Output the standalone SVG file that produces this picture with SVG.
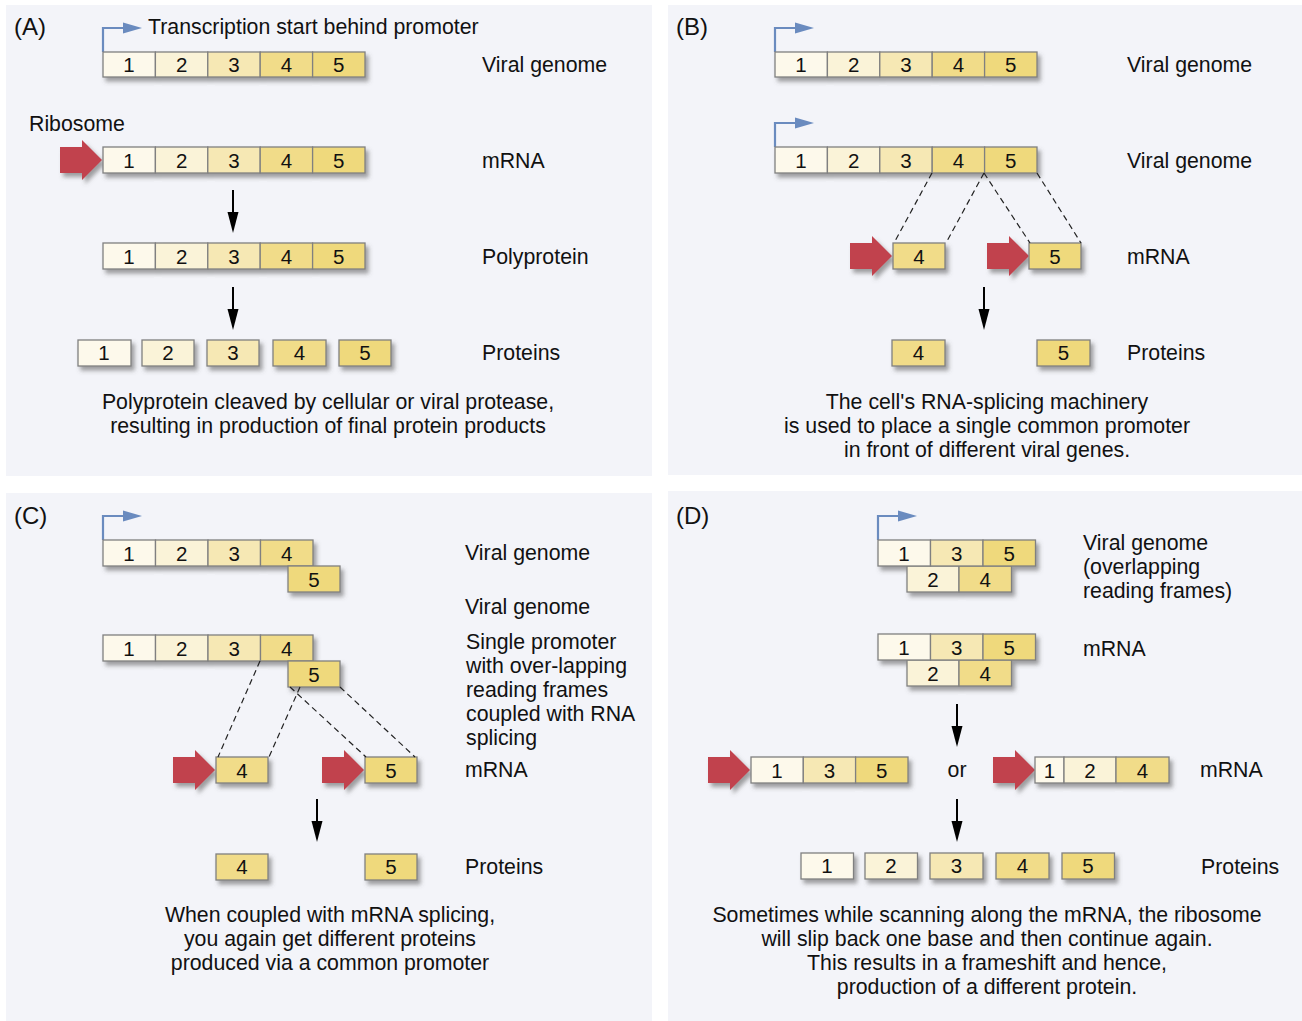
<svg xmlns="http://www.w3.org/2000/svg" width="1302" height="1021" viewBox="0 0 1302 1021">
<defs>
<filter id="sh" x="-20%" y="-30%" width="150%" height="180%">
<feDropShadow dx="3" dy="4" stdDeviation="2" flood-color="#555" flood-opacity="0.55"/>
</filter>
<polygon id="red" points="0,-13 22,-13 22,-20 42,0 22,20 22,13 0,13"/>
<g id="prom"><polyline points="0,0 0,-24 22,-24" fill="none" stroke="#6a8bbf" stroke-width="2.2"/><polygon points="20,-29.5 39,-24 20,-18.5" fill="#6a8bbf"/></g>
<g id="down"><line x1="0" y1="0" x2="0" y2="24" stroke="#000" stroke-width="2"/><polygon points="-5.5,22 5.5,22 0,43" fill="#000"/></g>
</defs>
<style>
text{font-family:"Liberation Sans",Arial,Helvetica,sans-serif;font-size:21.3px;fill:#111}
.n{text-anchor:middle;font-size:20.5px}
.c{text-anchor:middle}
.p{font-size:24px}
.b rect{stroke:#808080;stroke-width:1.3}
.c1{fill:#fdf9eb}.c2{fill:#faf3d8}.c3{fill:#f6e8b4}.c4{fill:#f1dc89}.c5{fill:#efd97b}
.dash{stroke:#222;stroke-width:1.2;stroke-dasharray:6,4;fill:none}
.ra{fill:#c1434d}
</style>
<rect width="1302" height="1021" fill="#ffffff"/>
<rect x="6" y="5" width="646" height="471" fill="#f3f4f9"/>
<rect x="668" y="5" width="634" height="470" fill="#f3f4f9"/>
<rect x="6" y="493" width="646" height="528" fill="#f3f4f9"/>
<rect x="668" y="491" width="634" height="530" fill="#f3f4f9"/>

<!-- Panel A -->
<g id="panelA">
<text class="p" x="14" y="35">(A)</text>
<text x="148" y="34">Transcription start behind promoter</text>
<use href="#prom" x="103" y="52"/>
<g id="A-genome" class="b" filter="url(#sh)">
<rect class="c1" x="103" y="52" width="52.4" height="25"/><rect class="c2" x="155.4" y="52" width="52.4" height="25"/><rect class="c3" x="207.8" y="52" width="52.4" height="25"/><rect class="c4" x="260.2" y="52" width="52.4" height="25"/><rect class="c5" x="312.6" y="52" width="52.4" height="25"/>
</g>
<text class="n" x="129" y="72">1</text><text class="n" x="181.6" y="72">2</text><text class="n" x="234" y="72">3</text><text class="n" x="286.4" y="72">4</text><text class="n" x="338.8" y="72">5</text>
<text x="482" y="72">Viral genome</text>
<text x="29" y="131">Ribosome</text>
<use href="#red" class="ra" x="60" y="160" filter="url(#sh)"/>
<g id="A-mrna" class="b" filter="url(#sh)">
<rect class="c1" x="103" y="147" width="52.4" height="26"/><rect class="c2" x="155.4" y="147" width="52.4" height="26"/><rect class="c3" x="207.8" y="147" width="52.4" height="26"/><rect class="c4" x="260.2" y="147" width="52.4" height="26"/><rect class="c5" x="312.6" y="147" width="52.4" height="26"/>
</g>
<text class="n" x="129" y="168">1</text><text class="n" x="181.6" y="168">2</text><text class="n" x="234" y="168">3</text><text class="n" x="286.4" y="168">4</text><text class="n" x="338.8" y="168">5</text>
<text x="482" y="168">mRNA</text>
<g id="A-poly" class="b" filter="url(#sh)">
<rect class="c1" x="103" y="243" width="52.4" height="26"/><rect class="c2" x="155.4" y="243" width="52.4" height="26"/><rect class="c3" x="207.8" y="243" width="52.4" height="26"/><rect class="c4" x="260.2" y="243" width="52.4" height="26"/><rect class="c5" x="312.6" y="243" width="52.4" height="26"/>
</g>
<text class="n" x="129" y="264">1</text><text class="n" x="181.6" y="264">2</text><text class="n" x="234" y="264">3</text><text class="n" x="286.4" y="264">4</text><text class="n" x="338.8" y="264">5</text>
<text x="482" y="264">Polyprotein</text>
<g id="A-prot" class="b" filter="url(#sh)">
<rect class="c1" x="78" y="340" width="53" height="26"/><rect class="c2" x="142" y="340" width="52" height="26"/><rect class="c3" x="207" y="340" width="52" height="26"/><rect class="c4" x="273" y="340" width="53" height="26"/><rect class="c5" x="339" y="340" width="52" height="26"/>
</g>
<text class="n" x="104" y="360">1</text><text class="n" x="168" y="360">2</text><text class="n" x="233" y="360">3</text><text class="n" x="299.5" y="360">4</text><text class="n" x="365" y="360">5</text>
<text x="482" y="360">Proteins</text>
<text class="c" x="328" y="409">Polyprotein cleaved by cellular or viral protease,</text>
<text class="c" x="328" y="433">resulting in production of final protein products</text>
</g>

<!-- Panel B -->
<g id="panelB">
<text class="p" x="676" y="35">(B)</text>
<use href="#prom" x="775" y="52"/>
<g class="b" filter="url(#sh)">
<rect class="c1" x="775" y="52" width="52.4" height="25"/><rect class="c2" x="827.4" y="52" width="52.4" height="25"/><rect class="c3" x="879.8" y="52" width="52.4" height="25"/><rect class="c4" x="932.2" y="52" width="52.4" height="25"/><rect class="c5" x="984.6" y="52" width="52.4" height="25"/>
</g>
<text class="n" x="801" y="72">1</text><text class="n" x="853.6" y="72">2</text><text class="n" x="906" y="72">3</text><text class="n" x="958.4" y="72">4</text><text class="n" x="1010.8" y="72">5</text>
<text x="1127" y="72">Viral genome</text>
<use href="#prom" x="775" y="147"/>
<g class="b" filter="url(#sh)">
<rect class="c1" x="775" y="147" width="52.4" height="26"/><rect class="c2" x="827.4" y="147" width="52.4" height="26"/><rect class="c3" x="879.8" y="147" width="52.4" height="26"/><rect class="c4" x="932.2" y="147" width="52.4" height="26"/><rect class="c5" x="984.6" y="147" width="52.4" height="26"/>
</g>
<text class="n" x="801" y="168">1</text><text class="n" x="853.6" y="168">2</text><text class="n" x="906" y="168">3</text><text class="n" x="958.4" y="168">4</text><text class="n" x="1010.8" y="168">5</text>
<text x="1127" y="168">Viral genome</text>
<use href="#red" class="ra" x="850" y="256" filter="url(#sh)"/>
<use href="#red" class="ra" x="987" y="256" filter="url(#sh)"/>
<g class="b" filter="url(#sh)">
<rect class="c4" x="893" y="243" width="52" height="26"/><rect class="c5" x="1029" y="243" width="52" height="26"/>
</g>
<text class="n" x="919" y="264">4</text><text class="n" x="1055" y="264">5</text>
<text x="1127" y="264">mRNA</text>
<use href="#down" x="984" y="287"/>
<g class="b" filter="url(#sh)">
<rect class="c4" x="892" y="340" width="53" height="26"/><rect class="c5" x="1037" y="340" width="53" height="26"/>
</g>
<text class="n" x="918.5" y="360">4</text><text class="n" x="1063.5" y="360">5</text>
<text x="1127" y="360">Proteins</text>
<text class="c" x="987" y="409">The cell's RNA-splicing machinery</text>
<text class="c" x="987" y="433">is used to place a single common promoter</text>
<text class="c" x="987" y="457">in front of different viral genes.</text>
</g>

<!-- Panel C -->
<g id="panelC">
<text class="p" x="14" y="524">(C)</text>
<use href="#prom" x="103" y="540"/>
<g class="b" filter="url(#sh)">
<rect class="c1" x="103" y="540" width="52.5" height="26"/><rect class="c2" x="155.5" y="540" width="52.5" height="26"/><rect class="c3" x="208" y="540" width="52.5" height="26"/><rect class="c4" x="260.5" y="540" width="52.5" height="26"/>
<rect class="c5" x="288" y="566" width="52" height="26"/>
</g>
<text class="n" x="129" y="561">1</text><text class="n" x="181.7" y="561">2</text><text class="n" x="234.2" y="561">3</text><text class="n" x="286.7" y="561">4</text><text class="n" x="314" y="587">5</text>
<text x="465" y="560">Viral genome</text>
<g class="b" filter="url(#sh)">
<rect class="c1" x="103" y="635" width="52.5" height="26"/><rect class="c2" x="155.5" y="635" width="52.5" height="26"/><rect class="c3" x="208" y="635" width="52.5" height="26"/><rect class="c4" x="260.5" y="635" width="52.5" height="26"/>
<rect class="c5" x="288" y="661" width="52" height="26"/>
</g>
<text class="n" x="129" y="656">1</text><text class="n" x="181.7" y="656">2</text><text class="n" x="234.2" y="656">3</text><text class="n" x="286.7" y="656">4</text><text class="n" x="314" y="682">5</text>
<text x="465" y="614">Viral genome</text>
<text x="466" y="649">Single promoter</text>
<text x="466" y="673">with over-lapping</text>
<text x="466" y="697">reading frames</text>
<text x="466" y="721">coupled with RNA</text>
<text x="466" y="745">splicing</text>
<use href="#red" class="ra" x="173" y="770" filter="url(#sh)"/>
<use href="#red" class="ra" x="322" y="770" filter="url(#sh)"/>
<g class="b" filter="url(#sh)">
<rect class="c4" x="216" y="757" width="52" height="26"/><rect class="c5" x="365" y="757" width="52" height="26"/>
</g>
<text class="n" x="242" y="778">4</text><text class="n" x="391" y="778">5</text>
<text x="465" y="777">mRNA</text>
<use href="#down" x="317" y="799"/>
<g class="b" filter="url(#sh)">
<rect class="c4" x="216" y="854" width="52" height="26"/><rect class="c5" x="365" y="854" width="52" height="26"/>
</g>
<text class="n" x="242" y="874">4</text><text class="n" x="391" y="874">5</text>
<text x="465" y="874">Proteins</text>
<text class="c" x="330" y="922">When coupled with mRNA splicing,</text>
<text class="c" x="330" y="946">you again get different proteins</text>
<text class="c" x="330" y="970">produced via a common promoter</text>
</g>

<!-- Panel D -->
<g id="panelD">
<text class="p" x="676" y="524">(D)</text>
<use href="#prom" x="878" y="540"/>
<g class="b" filter="url(#sh)">
<rect class="c2" x="907" y="566" width="52" height="26"/><rect class="c4" x="959" y="566" width="52.5" height="26"/>
<rect class="c1" x="878" y="540" width="52.5" height="26"/><rect class="c3" x="930.5" y="540" width="52.5" height="26"/><rect class="c5" x="983" y="540" width="52.5" height="26"/>
</g>
<text class="n" x="904" y="561">1</text><text class="n" x="956.7" y="561">3</text><text class="n" x="1009.2" y="561">5</text>
<text class="n" x="933" y="587">2</text><text class="n" x="985.2" y="587">4</text>
<text x="1083" y="550">Viral genome</text>
<text x="1083" y="574">(overlapping</text>
<text x="1083" y="598">reading frames)</text>
<g class="b" filter="url(#sh)">
<rect class="c2" x="907" y="660" width="52" height="26"/><rect class="c4" x="959" y="660" width="52.5" height="26"/>
<rect class="c1" x="878" y="634" width="52.5" height="26"/><rect class="c3" x="930.5" y="634" width="52.5" height="26"/><rect class="c5" x="983" y="634" width="52.5" height="26"/>
</g>
<text class="n" x="904" y="655">1</text><text class="n" x="956.7" y="655">3</text><text class="n" x="1009.2" y="655">5</text>
<text class="n" x="933" y="681">2</text><text class="n" x="985.2" y="681">4</text>
<text x="1083" y="656">mRNA</text>
<use href="#down" x="957" y="704"/>
<use href="#red" class="ra" x="708" y="770" filter="url(#sh)"/>
<g class="b" filter="url(#sh)">
<rect class="c1" x="751" y="757" width="52.3" height="26"/><rect class="c3" x="803.3" y="757" width="52.3" height="26"/><rect class="c5" x="855.6" y="757" width="52.4" height="26"/>
</g>
<text class="n" x="777" y="778">1</text><text class="n" x="829.5" y="778">3</text><text class="n" x="881.8" y="778">5</text>
<text class="c" x="957" y="777">or</text>
<use href="#red" class="ra" x="993" y="770" filter="url(#sh)"/>
<g class="b" filter="url(#sh)">
<rect class="c1" x="1035" y="757" width="29" height="26"/><rect class="c2" x="1064" y="757" width="52" height="26"/><rect class="c4" x="1116" y="757" width="53" height="26"/>
</g>
<text class="n" x="1049.5" y="778">1</text><text class="n" x="1090" y="778">2</text><text class="n" x="1142.5" y="778">4</text>
<text x="1200" y="777">mRNA</text>
<use href="#down" x="957" y="799"/>
<g class="b" filter="url(#sh)">
<rect class="c1" x="801" y="853" width="52.5" height="26"/><rect class="c2" x="865" y="853" width="52.5" height="26"/><rect class="c3" x="930" y="853" width="53" height="26"/><rect class="c4" x="996" y="853" width="53" height="26"/><rect class="c5" x="1062" y="853" width="52.5" height="26"/>
</g>
<text class="n" x="827" y="873">1</text><text class="n" x="891" y="873">2</text><text class="n" x="956.5" y="873">3</text><text class="n" x="1022.5" y="873">4</text><text class="n" x="1088" y="873">5</text>
<text x="1201" y="874">Proteins</text>
<text class="c" x="987" y="922">Sometimes while scanning along the mRNA, the ribosome</text>
<text class="c" x="987" y="946">will slip back one base and then continue again.</text>
<text class="c" x="987" y="970">This results in a frameshift and hence,</text>
<text class="c" x="987" y="994">production of a different protein.</text>
</g>

<g id="connectors">
<use href="#down" x="233" y="190"/>
<use href="#down" x="233" y="287"/>
<line class="dash" x1="932" y1="173" x2="894" y2="243"/>
<line class="dash" x1="984" y1="173" x2="946" y2="243"/>
<line class="dash" x1="984" y1="173" x2="1030" y2="243"/>
<line class="dash" x1="1037" y1="173" x2="1081" y2="243"/>
<line class="dash" x1="260" y1="661" x2="218" y2="757"/>
<line class="dash" x1="300" y1="687" x2="269" y2="757"/>
<line class="dash" x1="290" y1="687" x2="366" y2="757"/>
<line class="dash" x1="340" y1="687" x2="415" y2="757"/>
</g>
</svg>
